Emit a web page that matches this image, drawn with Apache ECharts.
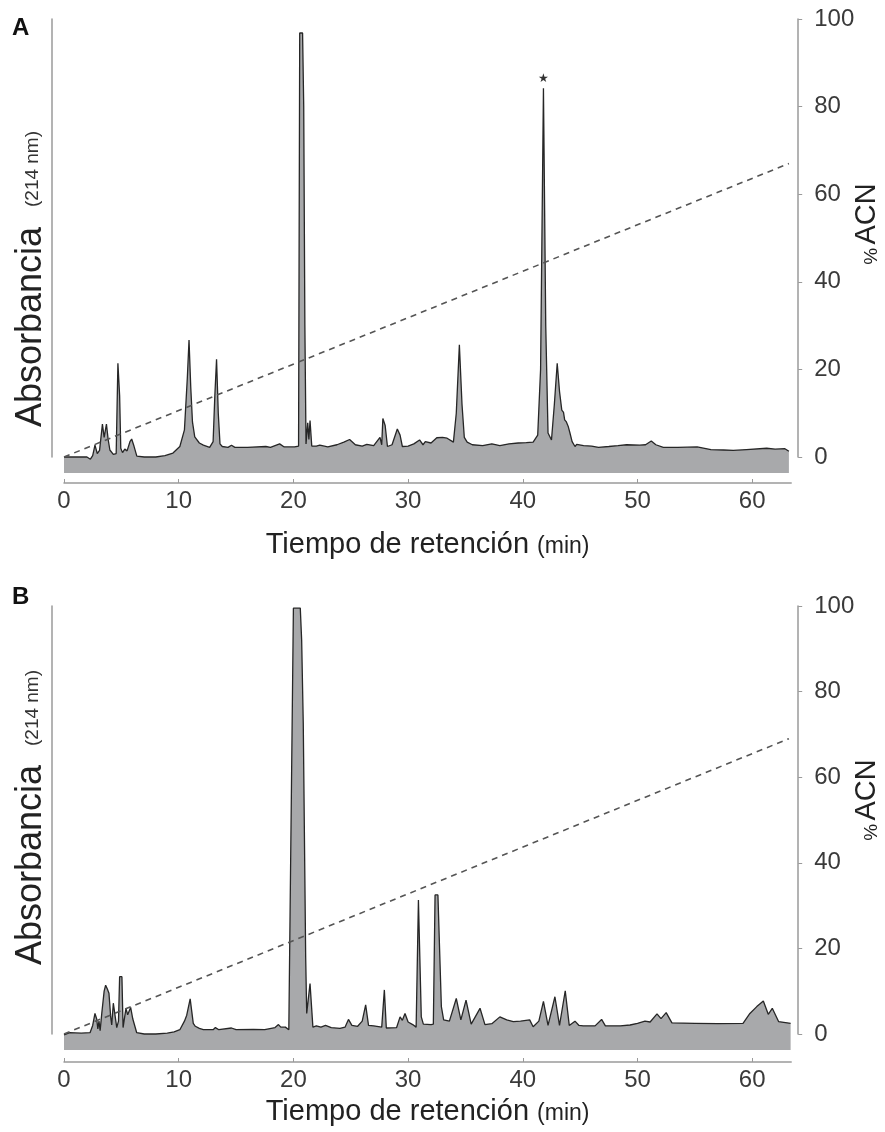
<!DOCTYPE html>
<html>
<head>
<meta charset="utf-8">
<script src="https://cdn.jsdelivr.net/npm/echarts@6.0.0/dist/echarts.min.js"></script>
<style>
  html, body { margin: 0; padding: 0; background: #fff; }
  #chart { width: 885px; height: 1132px; }
</style>
</head>
<body>
<div id="chart"></div>
<script>
// tiempo (min), absorbancia (en unidades de la escala derecha)
var trazaA = [
  [0,0],[1,0],[2,0],[2.3,-0.5],[2.5,0.3],[2.7,2.7],[2.9,0.8],[3.1,1.5],[3.35,7.5],[3.5,4.5],
  [3.7,7.5],[3.85,4],[4,1.6],[4.3,0.6],[4.55,0.8],[4.7,21.4],[4.85,14],[4.95,2],[5.1,1],[5.3,1.8],
  [5.5,1.4],[5.75,3.5],[5.9,4.1],[6.1,2.5],[6.35,0.2],[7,0],[8,0],[8.8,0.3],[9.5,0.9],[10.1,2.4],
  [10.5,6.2],[10.75,18],[10.9,26.7],[11.05,16],[11.2,8],[11.4,4.6],[11.8,3.2],[12.15,2.7],[12.7,2.2],[13,3.5],
  [13.15,14],[13.3,22.3],[13.45,10],[13.6,3],[13.8,2.4],[14.3,2.2],[14.6,2.7],[14.9,2.2],[16,2.2],[17.6,2.4],
  [18,2.2],[18.8,3],[19.2,2.3],[20.1,2.3],[20.45,2.5],[20.55,96.8],[20.8,96.8],[20.9,80],[21,30],[21.1,3],
  [21.25,7.8],[21.35,4],[21.45,8.3],[21.6,2.5],[22,2.5],[22.3,2.7],[23,2.3],[23.8,2.8],[24.4,3.4],[24.9,4],
  [25.4,2.8],[26,2.5],[26.4,2.9],[27,2.6],[27.55,4.5],[27.7,2.8],[27.8,8.8],[28,7.2],[28.2,2.4],[28.6,2.8],
  [29.06,6.4],[29.3,5],[29.5,2.4],[30,2.5],[30.5,3],[31,3.9],[31.3,2.8],[31.5,3.5],[32,3.2],[32.5,4.4],
  [33,4.5],[33.4,4.3],[33.95,3.4],[34.2,10],[34.47,25.6],[34.7,12],[34.9,4.5],[35.15,3.4],[35.6,2.8],[36.5,2.6],
  [37.3,3],[38,2.6],[38.8,3],[39.6,3.2],[40.3,3.3],[40.9,3.4],[41.3,5],[41.55,20],[41.8,84.2],[42,30],
  [42.2,5.5],[42.5,3.9],[42.75,12],[43,21.4],[43.2,15],[43.4,10.7],[43.55,10.2],[43.65,8.5],[43.8,8],[43.97,6.9],
  [44.1,5.6],[44.3,3.5],[44.55,2.4],[44.7,2.9],[45.3,2.6],[46,2.5],[46.6,2.2],[47.5,2.4],[48.3,2.6],[49.05,2.8],
  [50.2,2.7],[50.7,2.8],[51.2,3.65],[51.6,2.8],[52.25,2.2],[53.5,2.2],[55.2,2.3],[56.4,1.7],[57.5,1.6],[58.35,1.5],
  [59.5,1.7],[61.26,2],[62,1.8],[62.85,1.9],[63.2,1.3]
];
var trazaB = [
  [0,-0.2],[0.5,0.3],[1.5,0.2],[2.27,0.3],[2.5,2],[2.7,4.8],[2.85,3.5],[2.95,1.2],[3.05,3],[3.15,0.8],
  [3.3,5],[3.5,10],[3.63,11.4],[3.78,10.5],[3.92,9.5],[4.07,4],[4.16,2.1],[4.3,7.2],[4.45,6.8],[4.6,1.5],
  [4.75,3],[4.85,13.4],[5.05,13.4],[5.15,1.5],[5.4,6],[5.55,4.5],[5.65,4.2],[5.81,6.2],[6,3.5],[6.34,0.3],
  [7,0],[8,0],[9,0.2],[9.6,0.5],[10.1,1],[10.5,3],[10.7,4.4],[11,8.2],[11.27,2.5],[11.45,1.8],
  [11.6,2.1],[11.8,1.3],[12.15,1],[13,1],[13.2,1.5],[13.5,1],[14.6,1.4],[15,1],[16.5,1.1],[17.5,1],
  [18.4,1.5],[18.7,2.2],[18.9,1.6],[19.3,1.6],[19.6,1],[20,99.5],[20.6,99.5],[20.72,92],[20.86,72.6],[21.07,18],
  [21.16,4.8],[21.2,5],[21.45,11.8],[21.7,1.6],[22,1.9],[22.4,1.6],[22.8,2],[23.3,1.5],[24.06,1.3],[24.5,1.6],
  [24.8,3.4],[25.1,2],[25.6,1.8],[26,3],[26.3,6.8],[26.55,2],[27,1.9],[27.7,1.6],[27.93,10.3],[28.1,1.4],
  [29,1.5],[29.3,4],[29.5,3.2],[29.73,4.8],[30,2.8],[30.4,2.2],[30.7,1.6],[30.9,31.3],[31.15,4],[31.33,2.3],
  [32,2.2],[32.2,2.3],[32.35,32.5],[32.6,32.5],[32.9,6.4],[33.1,3.3],[33.6,3],[34.2,8.3],[34.6,3.3],[35.05,7.9],
  [35.5,2.3],[36.27,6],[36.7,2.2],[37.3,2.4],[38,4],[38.6,3.3],[39.17,2.9],[39.8,3],[40.6,3.3],[40.9,1.7],
  [41.4,3],[41.8,7.6],[42.2,2],[42.8,8.7],[43.2,2],[43.7,10.1],[44.05,2],[44.55,3],[44.9,2],[45.27,1.9],
  [46.3,1.9],[46.87,3.4],[47.2,1.9],[48.5,1.9],[49.35,2.1],[50,2.5],[50.65,3],[51.1,2.8],[51.7,4.7],[52.05,3.6],
  [52.5,5],[53,2.6],[55,2.5],[57,2.4],[59.2,2.5],[59.8,4.8],[60.4,6.4],[60.97,7.7],[61.4,4.6],[61.75,6],
  [62.3,2.9],[63.35,2.5]
];
// gradiente de acetonitrilo (%)
var gradienteA = [[0,0],[63.2,67]];
var gradienteB = [[0,0],[63.2,69]];
var ticksX = [0,10,20,30,40,50,60];

var chart = echarts.init(document.getElementById('chart'));
var FONT = 'Liberation Sans, Arial, sans-serif';
var gris = '#9a9a9a';
var texto = '#3a3a3a';
var XMAX = 63.4;

function ejeX(grid, offset, gap) {
  return {
    type: 'value', gridIndex: grid, min: 0, max: XMAX, offset: offset,
    axisLine: { show: true, onZero: false, lineStyle: { color: gris, width: 1.5 } },
    axisTick: { show: true, inside: true, length: 4, customValues: ticksX, lineStyle: { color: gris } },
    axisLabel: { customValues: ticksX, color: texto, fontSize: 24, fontFamily: FONT, margin: 6 },
    splitLine: { show: false },
    name: 'Tiempo de retención {s|(min)}',
    nameLocation: 'middle', nameGap: gap,
    nameTextStyle: {
      color: '#222', fontSize: 29, fontFamily: FONT,
      rich: { s: { fontSize: 23, fontFamily: FONT, color: '#222', padding: [5, 0, 0, 0] } }
    }
  };
}
function ejeXoculto(grid) {
  return { type: 'value', gridIndex: grid, min: 0, max: XMAX, show: false };
}
function ejeIzq(grid) {
  return {
    type: 'value', gridIndex: grid, position: 'left', offset: 12, min: 0, max: 100,
    axisLine: { show: true, onZero: false, lineStyle: { color: gris, width: 1.5 } },
    axisTick: { show: false }, axisLabel: { show: false }, splitLine: { show: false }
  };
}
function ejeDer(grid) {
  return {
    type: 'value', gridIndex: grid, position: 'right', offset: 7, min: 0, max: 100, interval: 20,
    axisLine: { show: true, onZero: false, lineStyle: { color: gris, width: 1.5 } },
    axisTick: { show: true, length: 4, lineStyle: { color: gris } },
    axisLabel: { color: texto, fontSize: 24, fontFamily: FONT, margin: 16 },
    splitLine: { show: false }
  };
}
function traza(datos, xi, yi, extra) {
  var s = {
    type: 'line', xAxisIndex: xi, yAxisIndex: yi, data: datos,
    showSymbol: false, symbol: 'none', animation: false,
    lineStyle: { color: '#262626', width: 1.3 },
    areaStyle: { color: '#a8a9ab', opacity: 1, origin: 'start' },
    z: 2
  };
  if (extra) s.markPoint = extra;
  return s;
}
function gradiente(datos, xi, yi) {
  return {
    type: 'line', xAxisIndex: xi, yAxisIndex: yi, data: datos,
    showSymbol: false, symbol: 'none', animation: false,
    lineStyle: { color: '#555', width: 1.6, type: [6, 5] }, z: 3
  };
}

var tituloACN = {
  text: '{p|%} {a|ACN}', align: 'center', verticalAlign: 'middle',
  rich: { p: { font: '19px ' + FONT, fill: '#222', verticalAlign: 'bottom' }, a: { font: '29px ' + FONT, fill: '#222' } }
};

var option = {
  backgroundColor: '#ffffff',
  animation: false,
  grid: [
    { left: 64, top: 19, width: 727.2, height: 454 },
    { left: 64, top: 19, width: 727.2, height: 438 },
    { left: 64, top: 606, width: 727.2, height: 444 },
    { left: 64, top: 606, width: 727.2, height: 428 }
  ],
  xAxis: [ejeX(0, 10, 47), ejeXoculto(1), ejeX(2, 12, 35), ejeXoculto(3)],
  yAxis: [
    { type: 'value', gridIndex: 0, min: -3.65, max: 100, show: false },
    ejeIzq(1), ejeDer(1),
    { type: 'value', gridIndex: 2, min: -3.74, max: 100, show: false },
    ejeIzq(3), ejeDer(3)
  ],
  series: [
    traza(trazaA, 0, 0, {
      symbol: 'circle', symbolSize: 1, itemStyle: { color: 'rgba(0,0,0,0)' },
      data: [{ coord: [41.8, 84.2] }],
      label: { show: true, formatter: '★', position: 'top', distance: 3, color: '#333', fontSize: 12, fontFamily: 'DejaVu Sans' }
    }),
    gradiente(gradienteA, 1, 2),
    traza(trazaB, 2, 3),
    gradiente(gradienteB, 3, 5)
  ],
  graphic: [
    { type: 'text', left: 12, top: 16, style: { text: 'A', font: 'bold 24px ' + FONT, fill: '#111' } },
    { type: 'text', left: 12, top: 585, style: { text: 'B', font: 'bold 24px ' + FONT, fill: '#111' } },
    { type: 'text', x: 31, y: 327, rotation: Math.PI / 2, style: { text: 'Absorbancia', font: '36px ' + FONT, fill: '#222', align: 'center', verticalAlign: 'middle' } },
    { type: 'text', x: 33, y: 169, rotation: Math.PI / 2, style: { text: '(214 nm)', font: '19px ' + FONT, fill: '#333', align: 'center', verticalAlign: 'middle' } },
    { type: 'text', x: 31, y: 865, rotation: Math.PI / 2, style: { text: 'Absorbancia', font: '36px ' + FONT, fill: '#222', align: 'center', verticalAlign: 'middle' } },
    { type: 'text', x: 33, y: 708, rotation: Math.PI / 2, style: { text: '(214 nm)', font: '19px ' + FONT, fill: '#333', align: 'center', verticalAlign: 'middle' } },
    { type: 'text', x: 867, y: 224, rotation: Math.PI / 2, style: tituloACN },
    { type: 'text', x: 867, y: 800, rotation: Math.PI / 2, style: tituloACN }
  ]
};
chart.setOption(option);
</script>
</body>
</html>
